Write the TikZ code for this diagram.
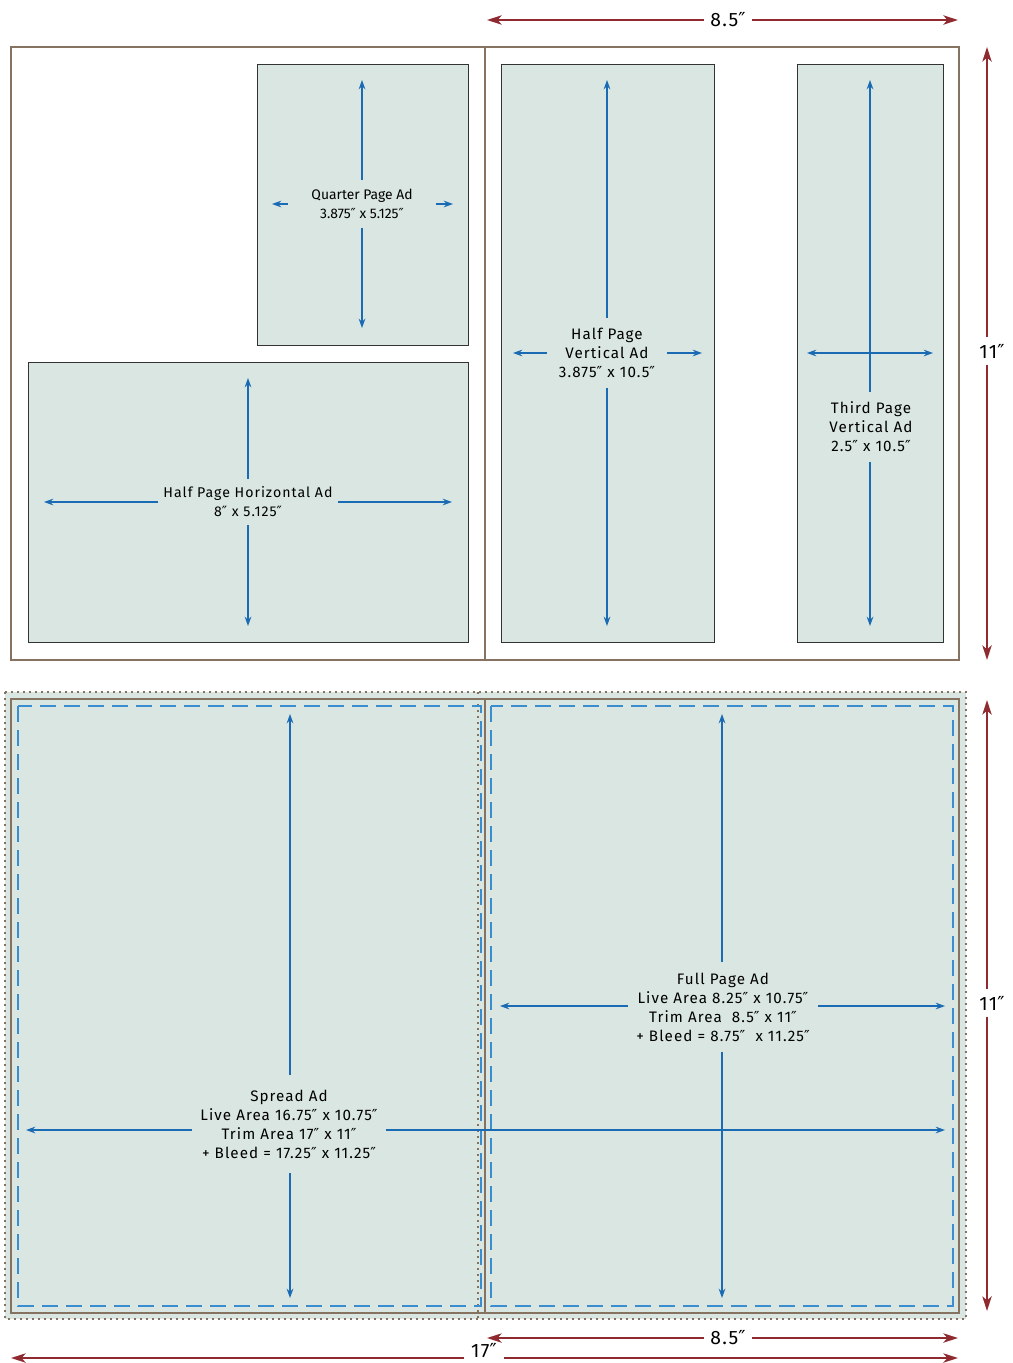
\documentclass[tikz,border=0pt]{standalone}
\usepackage{fontspec}
\setmainfont{Fira Sans}[LetterSpace=7]
\newfontfamily\quarfont{Fira Sans}
\newfontfamily\primefont{DejaVu Sans}
\newcommand{\inch}{{\primefont\char"2033}}
\usetikzlibrary{arrows.meta}
\definecolor{adfill}{HTML}{D9E6E2}
\definecolor{adblue}{HTML}{1A6BB3}
\definecolor{liveblue}{HTML}{3A8ED0}
\definecolor{trimbrown}{HTML}{857260}
\definecolor{dimred}{HTML}{8E2A30}
\tikzset{
  adbox/.style={draw=black!80, fill=adfill, line width=0.6pt},
  adarrow/.style={draw=adblue, line width=1pt, >={Stealth[length=7pt,width=5pt]}, ->},
  dimarrow/.style={draw=dimred, line width=1.3pt, >={Stealth[length=11pt,width=7pt,inset=3pt]}, ->},
  adlabel/.style 2 args={inner sep=0pt, align=center, minimum width=#1*0.75pt, minimum height=#2*0.75pt, font=\fontsize{11.4}{14.2}\selectfont},
  dimlabel/.style={inner xsep=5pt, inner ysep=5pt, font=\fontsize{14.5}{16}\selectfont},
  page/.style={draw=trimbrown, line width=1.5pt},
  live/.style={draw=liveblue, line width=1.1pt, dash pattern=on 12pt off 6pt},
  bleed/.style={draw=trimbrown, line width=1.4pt, dash pattern=on 1.2pt off 3.3pt}
}
\begin{document}
\begin{tikzpicture}[x=0.75pt, y=-0.75pt]
      \useasboundingbox (0,0) rectangle (1013,1363);

      \draw[page] (11,47) rectangle (959,660);
      \draw[page] (485,47) -- (485,660);
      \draw[adbox] (257,64) rectangle (468,345);
      \draw[adbox] (28,362) rectangle (468,642);
      \draw[adbox] (501,64) rectangle (714,642);
      \draw[adbox] (797,64) rectangle (943,642);

      \node[adlabel={147}{48}, font=\quarfont\fontsize{10.4}{14.2}\selectfont] (quartxt) at (362,204) {Quarter Page Ad\\3.875\inch{} x 5.125\inch};
      \node[adlabel={179}{46}, font=\fontsize{10.6}{14.2}\selectfont] (halfhtxt) at (248,502) {Half Page Horizontal Ad\\8\inch{} x 5.125\inch};
      \node[adlabel={120}{70}] (halfvtxt) at (607,353) {Half Page\\Vertical Ad\\3.875\inch{} x 10.5\inch};
      \node[adlabel={90}{70}] (thirdtxt) at (871,427) {Third Page\\Vertical Ad\\2.5\inch{} x 10.5\inch};

      \coordinate (quarU) at (362,80);
      \coordinate (quarD) at (362,328);
      \coordinate (quarL) at (272,204);
      \coordinate (quarR) at (453,204);
      \coordinate (halfhU) at (248,378);
      \coordinate (halfhD) at (248,626);
      \coordinate (halfhL) at (44,502);
      \coordinate (halfhR) at (452,502);
      \coordinate (halfvU) at (607,80);
      \coordinate (halfvD) at (607,626);
      \coordinate (halfvL) at (513,353);
      \coordinate (halfvR) at (702,353);
      \coordinate (thirdU) at (870,80);
      \coordinate (thirdD) at (870,626);
      \coordinate (thirdL) at (807,353);
      \coordinate (thirdR) at (933,353);

      \draw[adarrow] (quartxt) -- (quarU);
      \draw[adarrow] (quartxt) -- (quarD);
      \draw[adarrow] (quartxt) -- (quarL);
      \draw[adarrow] (quartxt) -- (quarR);
      \draw[adarrow] (halfhtxt) -- (halfhU);
      \draw[adarrow] (halfhtxt) -- (halfhD);
      \draw[adarrow] (halfhtxt) -- (halfhL);
      \draw[adarrow] (halfhtxt) -- (halfhR);
      \draw[adarrow] (halfvtxt) -- (halfvU);
      \draw[adarrow] (halfvtxt) -- (halfvD);
      \draw[adarrow] (halfvtxt) -- (halfvL);
      \draw[adarrow] (halfvtxt) -- (halfvR);
      \draw[adarrow] (thirdtxt.north -| thirdU) -- (thirdU);
      \draw[adarrow] (thirdtxt.south -| thirdD) -- (thirdD);
      \draw[adarrow, <->] (thirdL) -- (thirdR);

      \draw[bleed, fill=adfill] (5,692) rectangle (966,1319);
      \draw[bleed] (478,692) -- (478,1319);
      \draw[page] (11,699) rectangle (959,1313);
      \draw[page] (485,699) -- (485,1313);
      \draw[live] (18,706) rectangle (481,1306);
      \draw[live] (491,706) rectangle (953,1306);

      \node[adlabel={190}{90}] (fulltxt) at (723,1007) {Full Page Ad\\Live Area 8.25\inch{} x 10.75\inch\\Trim Area\ \ 8.5\inch{} x 11\inch\\+ Bleed = 8.75\inch\ \ x 11.25\inch};
      \node[adlabel={194}{97}] (spreadtxt) at (289,1124) {Spread Ad\\Live Area 16.75\inch{} x 10.75\inch\\Trim Area 17\inch{} x 11\inch\\+ Bleed = 17.25\inch{} x 11.25\inch};

      \coordinate (fullU) at (722,714);
      \coordinate (fullD) at (722,1298);
      \coordinate (fullL) at (500,1006);
      \coordinate (fullR) at (945,1006);
      \coordinate (spreadU) at (290,714);
      \coordinate (spreadD) at (290,1298);
      \coordinate (spreadL) at (26,1130);
      \coordinate (spreadR) at (945,1130);

      \draw[adarrow] (fulltxt.north -| fullU) -- (fullU);
      \draw[adarrow] (fulltxt.south -| fullD) -- (fullD);
      \draw[adarrow] (fulltxt.west |- fullL) -- (fullL);
      \draw[adarrow] (fulltxt.east |- fullR) -- (fullR);
      \draw[adarrow] (spreadtxt.north -| spreadU) -- (spreadU);
      \draw[adarrow] (spreadtxt.south -| spreadD) -- (spreadD);
      \draw[adarrow] (spreadtxt.west |- spreadL) -- (spreadL);
      \draw[adarrow] (spreadtxt.east |- spreadR) -- (spreadR);

      \node[dimlabel] (topwid) at (728,20) {8.5\inch};
      \node[dimlabel] (tophgt) at (992,351) {11\inch};
      \node[dimlabel] (bothgt) at (992,1003) {11\inch};
      \node[dimlabel] (botwid) at (728,1338) {8.5\inch};
      \node[dimlabel, inner ysep=1pt] (spreadwid) at (484,1351) {17\inch};

      \coordinate (topwidL) at (487,20);
      \coordinate (topwidR) at (958,20);
      \coordinate (tophgtU) at (987,47);
      \coordinate (tophgtD) at (987,660);
      \coordinate (bothgtU) at (987,700);
      \coordinate (bothgtD) at (987,1311);
      \coordinate (botwidL) at (487,1338);
      \coordinate (botwidR) at (958,1338);
      \coordinate (spreadwidL) at (11,1358);
      \coordinate (spreadwidR) at (958,1358);

      \draw[dimarrow] (topwid) -- (topwidL);
      \draw[dimarrow] (topwid) -- (topwidR);
      \draw[dimarrow] (tophgt.north -| tophgtU) -- (tophgtU);
      \draw[dimarrow] (tophgt.south -| tophgtD) -- (tophgtD);
      \draw[dimarrow] (bothgt.north -| bothgtU) -- (bothgtU);
      \draw[dimarrow] (bothgt.south -| bothgtD) -- (bothgtD);
      \draw[dimarrow] (botwid) -- (botwidL);
      \draw[dimarrow] (botwid) -- (botwidR);
      \draw[dimarrow] (spreadwid.west |- spreadwidL) -- (spreadwidL);
      \draw[dimarrow] (spreadwid.east |- spreadwidR) -- (spreadwidR);
\end{tikzpicture}
\end{document}
